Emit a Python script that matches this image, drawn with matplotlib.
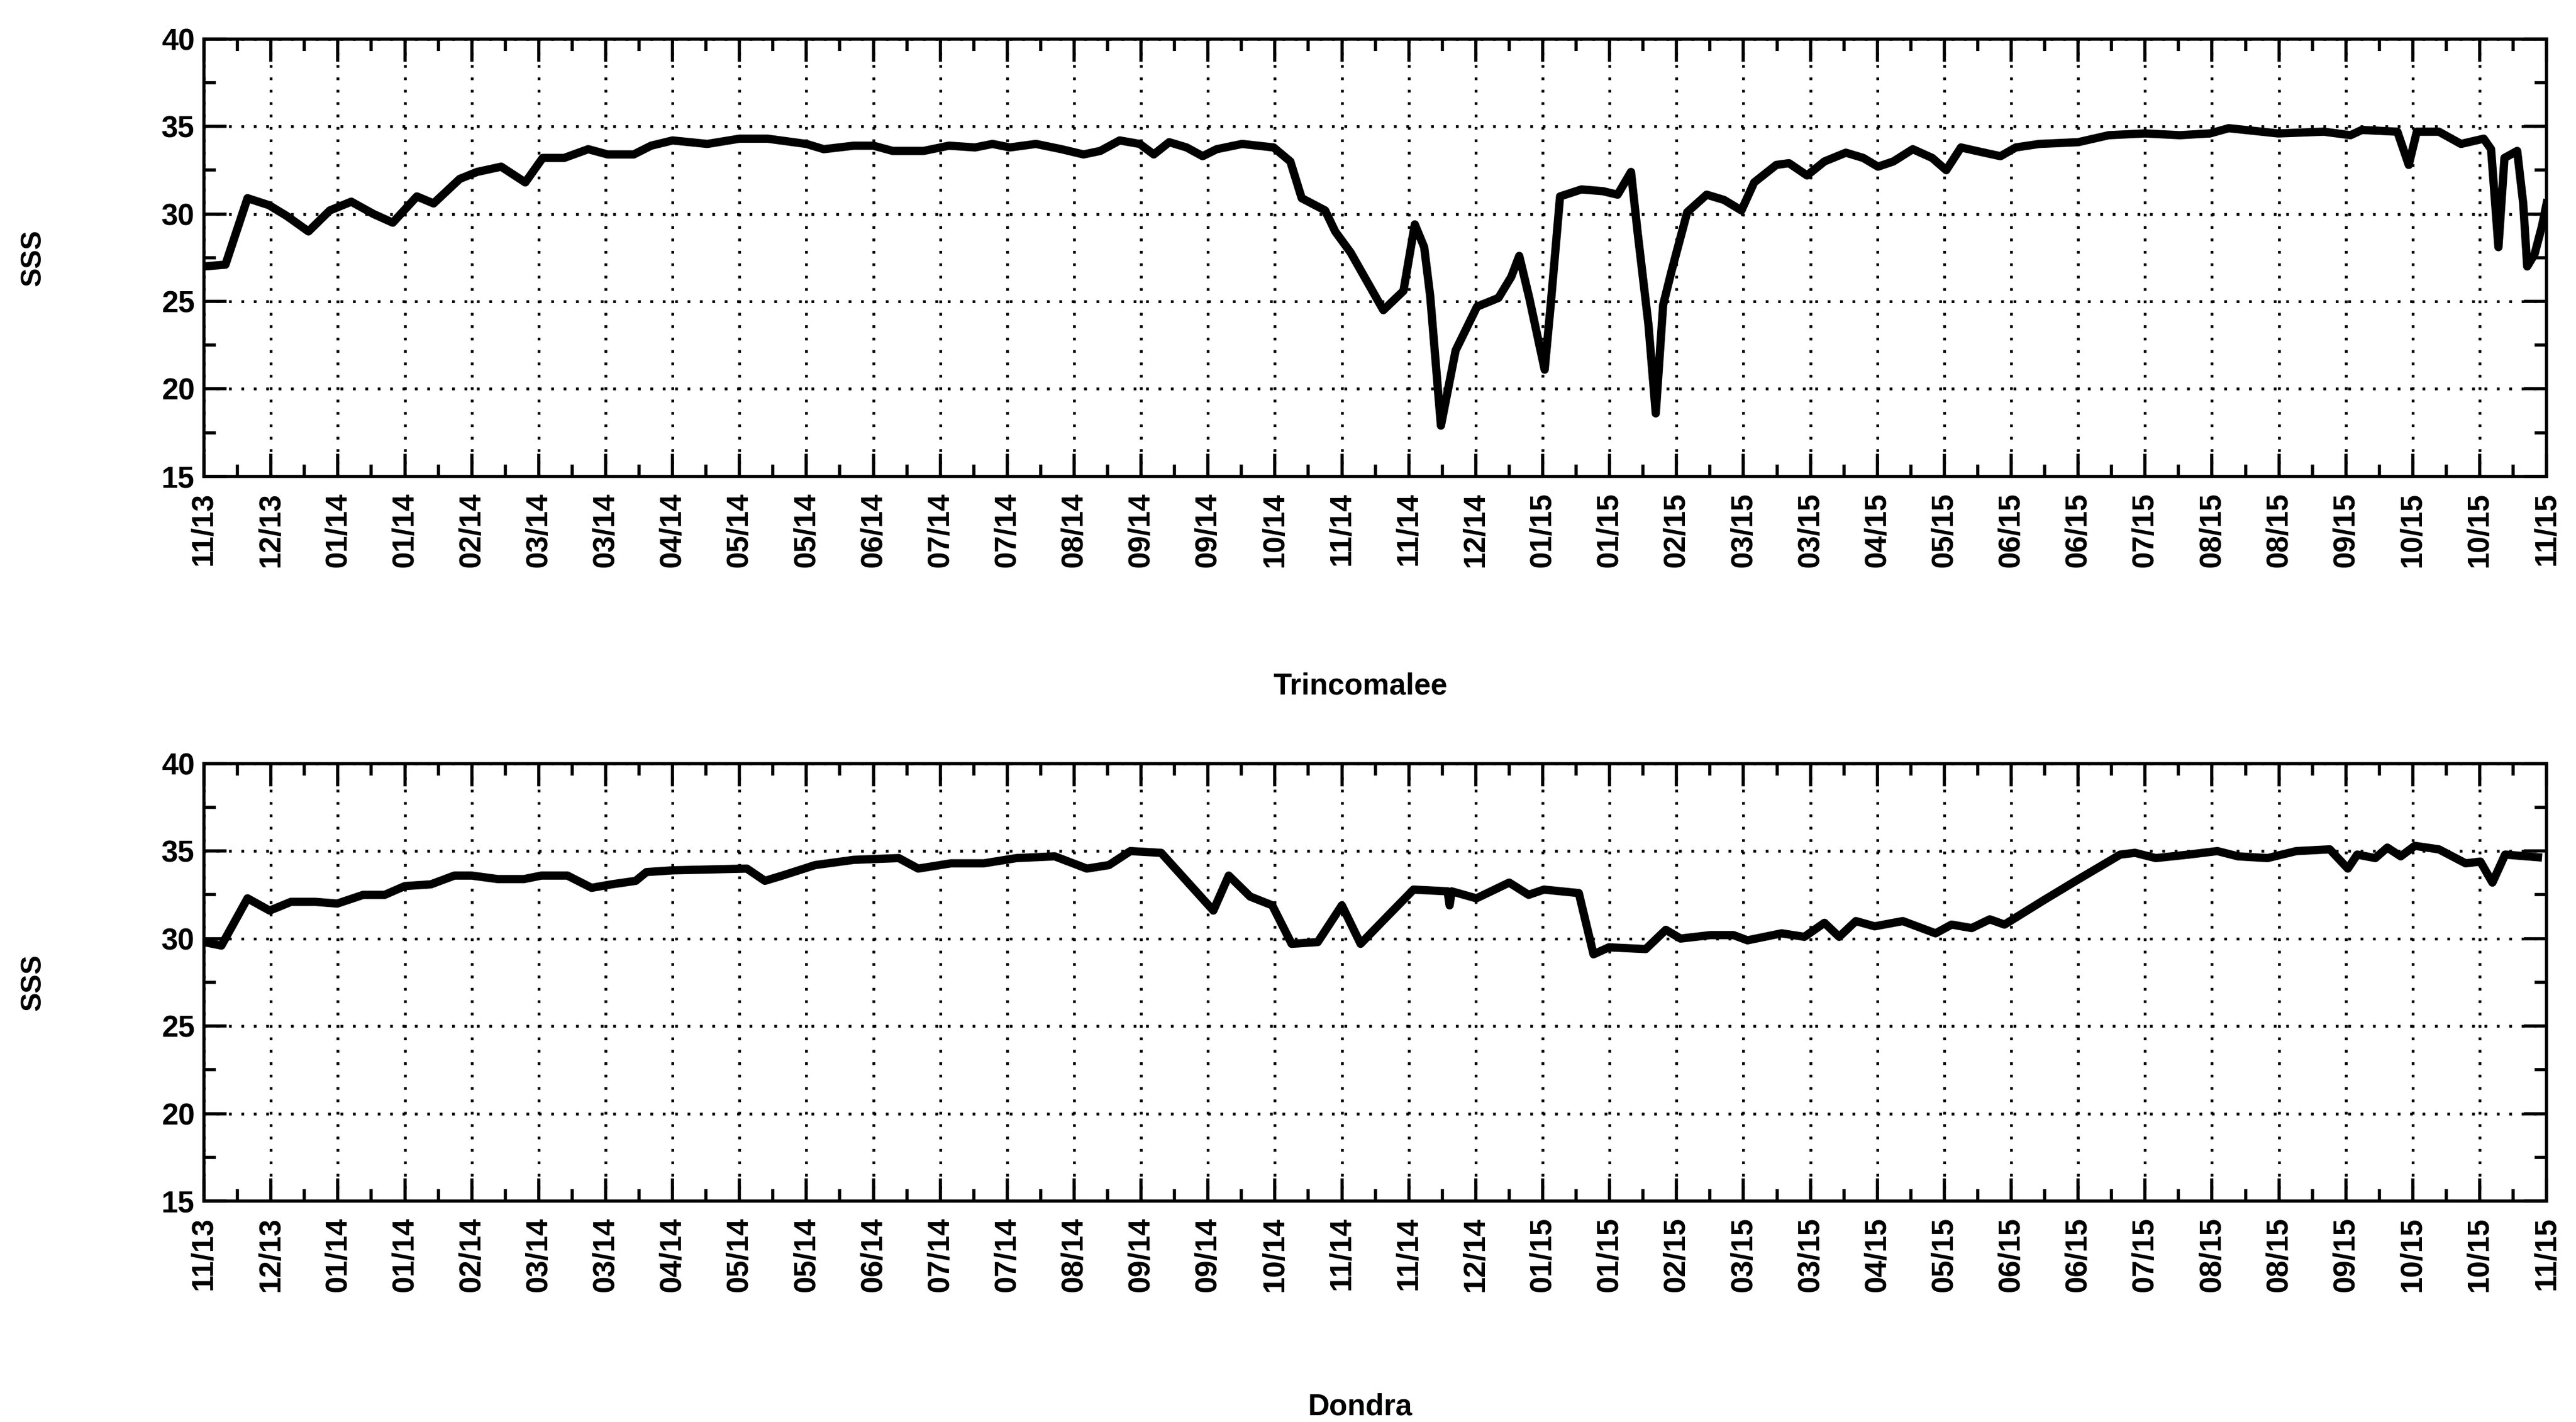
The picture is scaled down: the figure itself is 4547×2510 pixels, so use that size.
import matplotlib
matplotlib.use("Agg")
import matplotlib.pyplot as plt
from matplotlib.ticker import MultipleLocator

plt.rcParams['font.family'] = ['Liberation Sans', 'DejaVu Sans']
plt.rcParams['font.weight'] = 'bold'

# tick labels (one every ~3 weeks)
tick_labels = ['11/13', '12/13', '01/14', '01/14', '02/14', '03/14', '03/14', '04/14',
               '05/14', '05/14', '06/14', '07/14', '07/14', '08/14', '09/14', '09/14',
               '10/14', '11/14', '11/14', '12/14', '01/15', '01/15', '02/15', '03/15',
               '03/15', '04/15', '05/15', '06/15', '06/15', '07/15', '08/15', '08/15',
               '09/15', '10/15', '10/15', '11/15']

# x positions in tick units (0 = first tick, 35 = last tick)
trinco_t = [0, 0.32, 0.65, 0.97, 1.23, 1.56, 1.88, 2.2, 2.53, 2.82, 3.18, 3.43, 3.82, 4.08,
            4.44, 4.8, 5.06, 5.38, 5.74, 6.03, 6.42, 6.68, 7.0, 7.52, 8.0, 8.42, 9.0, 9.26,
            9.71, 10.0, 10.29, 10.75, 11.13, 11.52, 11.78, 12.04, 12.43, 12.81, 13.14, 13.39,
            13.68, 13.98, 14.19, 14.42, 14.68, 14.92, 15.13, 15.51, 15.98, 16.23, 16.4, 16.75,
            16.9, 17.13, 17.62, 17.92, 18.09, 18.23, 18.32, 18.48, 18.7, 19.02, 19.34, 19.53,
            19.65, 19.8, 20.03, 20.12, 20.26, 20.58, 20.9, 21.12, 21.32, 21.42, 21.58, 21.69,
            21.8, 21.93, 22.16, 22.45, 22.71, 22.97, 23.16, 23.49, 23.68, 23.95, 24.21, 24.53,
            24.79, 25.01, 25.24, 25.53, 25.82, 26.03, 26.25, 26.48, 26.84, 27.07, 27.42, 28.0,
            28.46, 29.0, 29.52, 29.97, 30.25, 30.99, 31.67, 32.07, 32.24, 32.77, 32.94, 33.06,
            33.39, 33.72, 34.06, 34.17, 34.28, 34.37, 34.56, 34.65, 34.71, 34.82, 34.93, 35.0]
trinco_sss = [27.0, 27.1, 30.9, 30.5, 29.9, 29.0, 30.2, 30.7, 30.0, 29.5, 31.0, 30.6, 32.0, 32.4,
              32.7, 31.8, 33.2, 33.2, 33.7, 33.4, 33.4, 33.9, 34.2, 34.0, 34.3, 34.3, 34.0, 33.7,
              33.9, 33.9, 33.6, 33.6, 33.9, 33.8, 34.0, 33.8, 34.0, 33.7, 33.4, 33.6,
              34.2, 34.0, 33.4, 34.1, 33.8, 33.3, 33.7, 34.0, 33.8, 33.0, 30.9, 30.2,
              29.0, 27.8, 24.5, 25.6, 29.4, 28.1, 25.3, 17.9, 22.2, 24.7, 25.2, 26.4,
              27.6, 25.2, 21.1, 24.8, 31.0, 31.4, 31.3, 31.1, 32.4, 28.9, 23.7, 18.6,
              24.8, 26.8, 30.1, 31.1, 30.8, 30.2, 31.8, 32.8, 32.9, 32.2, 33.0, 33.5,
              33.2, 32.7, 33.0, 33.7, 33.2, 32.5, 33.8, 33.6, 33.3, 33.8, 34.0, 34.1,
              34.5, 34.6, 34.5, 34.6, 34.9, 34.6, 34.7, 34.5, 34.8, 34.7, 32.8, 34.7,
              34.7, 34.0, 34.3, 33.7, 28.1, 33.2, 33.6, 30.6, 27.0, 27.7, 29.3, 30.6]

dondra_t = [0, 0.26, 0.65, 0.98, 1.3, 1.66, 1.99, 2.38, 2.7, 3.0, 3.39, 3.74, 4.0, 4.39, 4.78,
            5.04, 5.43, 5.79, 6.09, 6.45, 6.61, 7.0, 8.11, 8.38, 8.64, 9.13, 9.71, 10.38, 10.67,
            11.16, 11.65, 12.14, 12.71, 13.19, 13.52, 13.84, 14.3, 15.08, 15.31, 15.63, 15.96,
            16.25, 16.64, 17.0, 17.28, 17.61, 18.07, 18.58, 18.61, 18.64, 19.01, 19.5, 19.79,
            20.02, 20.54, 20.76, 20.99, 21.54, 21.84, 22.06, 22.51, 22.85, 23.06, 23.57, 23.91,
            24.21, 24.43, 24.68, 24.96, 25.38, 25.87, 26.11, 26.41, 26.68, 26.9, 27.49, 28.01,
            28.63, 28.85, 29.16, 29.65, 30.08, 30.39, 30.83, 31.26, 31.76, 32.03, 32.17, 32.44,
            32.62, 32.82, 33.03, 33.39, 33.79, 34.01, 34.19, 34.38, 34.87]
dondra_sss = [29.8, 29.6, 32.3, 31.6, 32.1, 32.1, 32.0, 32.5, 32.5, 33.0, 33.1, 33.6, 33.6, 33.4, 33.4,
              33.6, 33.6, 32.9, 33.1, 33.3, 33.8, 33.9, 34.0, 33.3, 33.6, 34.2, 34.5, 34.6, 34.0,
              34.3, 34.3, 34.6, 34.7, 34.0, 34.2, 35.0, 34.9, 31.6, 33.6, 32.4, 31.9,
              29.7, 29.8, 31.9, 29.7, 31.0, 32.8, 32.7, 31.9, 32.7, 32.3, 33.2, 32.5,
              32.8, 32.6, 29.1, 29.5, 29.4, 30.5, 30.0, 30.2, 30.2, 29.9, 30.3, 30.1,
              30.9, 30.1, 31.0, 30.7, 31.0, 30.3, 30.8, 30.6, 31.1, 30.8, 32.2, 33.4,
              34.8, 34.9, 34.6, 34.8, 35.0, 34.7, 34.6, 35.0, 35.1, 34.0, 34.8, 34.6,
              35.2, 34.7, 35.3, 35.1, 34.3, 34.4, 33.2, 34.8, 34.65]

fig = plt.figure(figsize=(45.47, 25.10), dpi=100)
ax_top = fig.add_axes([0.0792, 0.665, 0.9094, 0.3076])
ax_bot = fig.add_axes([0.0792, 0.1554, 0.9094, 0.3076])


def style_axis(ax, t, sss):
    ax.plot(t, sss, color='black', lw=10.5, solid_joinstyle='round', zorder=3)
    ax.set_xlim(0, len(tick_labels) - 1)
    ax.set_ylim(15, 40)
    ax.set_xticks(range(len(tick_labels)))
    ax.set_xticklabels(tick_labels, rotation=90, fontsize=38, fontweight='bold')
    ax.xaxis.set_minor_locator(MultipleLocator(0.5))
    ax.yaxis.set_major_locator(MultipleLocator(5))
    ax.yaxis.set_minor_locator(MultipleLocator(2.5))
    for lab in ax.get_yticklabels():
        lab.set_fontsize(38)
        lab.set_fontweight('bold')
    ax.tick_params(which='both', direction='in', top=True, right=True, width=4, color='black')
    ax.tick_params(which='major', length=29)
    ax.tick_params(which='minor', length=15)
    ax.tick_params(axis='x', which='major', pad=20)
    ax.tick_params(axis='y', which='major', pad=12)
    ax.grid(True, which='major', color='black', linestyle=(0, (1, 3.5)), linewidth=3.5)
    for sp in ax.spines.values():
        sp.set_linewidth(4)


style_axis(ax_top, trinco_t, trinco_sss)
style_axis(ax_bot, dondra_t, dondra_sss)

fig.text(0.0128, 0.665 + 0.3076 / 2, 'SSS', rotation=90, ha='center', va='center',
         fontsize=36, fontweight='bold')
fig.text(0.0128, 0.1554 + 0.3076 / 2, 'SSS', rotation=90, ha='center', va='center',
         fontsize=36, fontweight='bold')
fig.text(0.528, 0.5173, 'Trincomalee', ha='center', va='center', fontsize=38, fontweight='bold')
fig.text(0.528, 0.0104, 'Dondra', ha='center', va='center', fontsize=38, fontweight='bold')

fig.savefig('out.png', dpi=100, facecolor='white')
